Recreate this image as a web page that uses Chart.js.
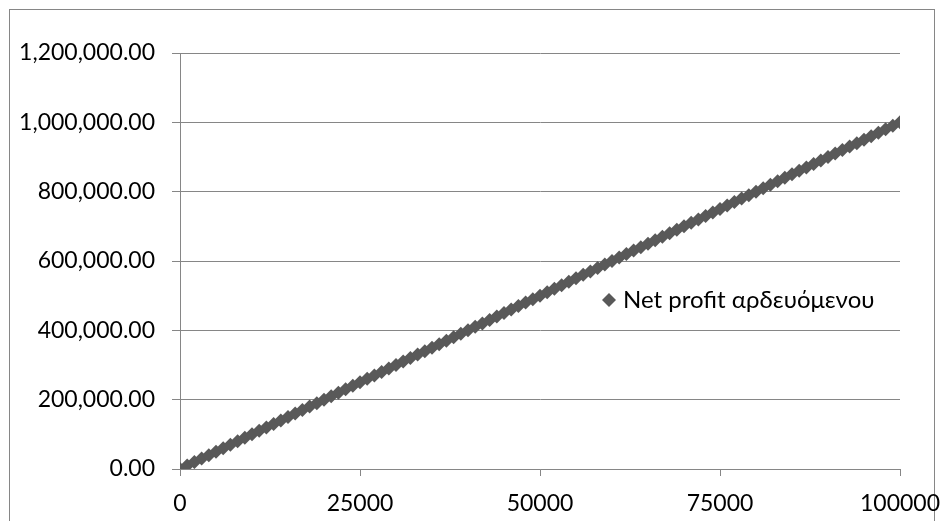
<!DOCTYPE html>
<html>
<head>
<meta charset="utf-8">
<script src="https://cdn.jsdelivr.net/npm/chart.js@4/dist/chart.umd.min.js"></script>
<style>
  html, body { margin: 0; padding: 0; background: #fff; }
  #wrap { width: 944px; height: 521px; position: relative; }
</style>
</head>
<body>
<div id="wrap"><canvas id="chart" width="944" height="521"></canvas></div>
<script>
// ---- data ----
const seriesName = "Net profit αρδευόμενου";

const areaX = [
    0, 1000, 2000, 3000, 4000, 5000, 6000, 7000, 8000, 9000,
    10000, 11000, 12000, 13000, 14000, 15000, 16000, 17000, 18000, 19000,
    20000, 21000, 22000, 23000, 24000, 25000, 26000, 27000, 28000, 29000,
    30000, 31000, 32000, 33000, 34000, 35000, 36000, 37000, 38000, 39000,
    40000, 41000, 42000, 43000, 44000, 45000, 46000, 47000, 48000, 49000,
    50000, 51000, 52000, 53000, 54000, 55000, 56000, 57000, 58000, 59000,
    60000, 61000, 62000, 63000, 64000, 65000, 66000, 67000, 68000, 69000,
    70000, 71000, 72000, 73000, 74000, 75000, 76000, 77000, 78000, 79000,
    80000, 81000, 82000, 83000, 84000, 85000, 86000, 87000, 88000, 89000,
    90000, 91000, 92000, 93000, 94000, 95000, 96000, 97000, 98000, 99000,
    100000
];

const netProfit = [
    0, 10000, 20000, 30000, 40000, 50000, 60000, 70000, 80000, 90000,
    100000, 110000, 120000, 130000, 140000, 150000, 160000, 170000, 180000, 190000,
    200000, 210000, 220000, 230000, 240000, 250000, 260000, 270000, 280000, 290000,
    300000, 310000, 320000, 330000, 340000, 350000, 360000, 370000, 380000, 390000,
    400000, 410000, 420000, 430000, 440000, 450000, 460000, 470000, 480000, 490000,
    500000, 510000, 520000, 530000, 540000, 550000, 560000, 570000, 580000, 590000,
    600000, 610000, 620000, 630000, 640000, 650000, 660000, 670000, 680000, 690000,
    700000, 710000, 720000, 730000, 740000, 750000, 760000, 770000, 780000, 790000,
    800000, 810000, 820000, 830000, 840000, 850000, 860000, 870000, 880000, 890000,
    900000, 910000, 920000, 930000, 940000, 950000, 960000, 970000, 980000, 990000,
    1000000
];

const xTicks = [0, 25000, 50000, 75000, 100000];
const yTicks = [0, 200000, 400000, 600000, 800000, 1000000, 1200000];

// ---- styling ----
const FONT = "Lato";
const FSIZE = 23;
const GRID = "#868686";
const MARK = "#595959";

// outer frame + legend drawn on top (Excel style, legend inside plot)
const excelBits = {
    id: "excelBits",
    beforeDraw(chart) {
        const c = chart.ctx;
        c.save();
        c.fillStyle = "#fff";
        c.fillRect(0, 0, chart.width, chart.height);
        c.strokeStyle = "#868686";
        c.lineWidth = 1;
        c.strokeRect(9.5, 9.5, 925, 530);
        c.restore();
    },
    afterDraw(chart) {
        const c = chart.ctx;
        c.save();
        // diamond marker
        const mx = 609, my = 300, r = 7;
        c.fillStyle = MARK;
        c.beginPath();
        c.moveTo(mx, my - r);
        c.lineTo(mx + r, my);
        c.lineTo(mx, my + r);
        c.lineTo(mx - r, my);
        c.closePath();
        c.fill();
        c.fillStyle = "#000";
        c.font = "24px " + FONT;
        c.textBaseline = "middle";
        c.fillText(seriesName, 623, my);
        c.restore();
    }
};

const points = areaX.map((x, i) => ({ x: x, y: netProfit[i] }));

new Chart(document.getElementById("chart"), {
    type: "scatter",
    data: {
        datasets: [{
            label: seriesName,
            data: points,
            pointStyle: "rectRot",
            pointRadius: 7,
            pointBackgroundColor: MARK,
            pointBorderColor: MARK,
            pointBorderWidth: 0,
            showLine: false
        }]
    },
    options: {
        responsive: false,
        animation: false,
        layout: { padding: { top: 53, right: 44, bottom: 0, left: 0 } },
        plugins: {
            legend: { display: false },
            tooltip: { enabled: false }
        },
        scales: {
            x: {
                type: "linear",
                min: 0,
                max: 100000,
                afterBuildTicks: (s) => { s.ticks = xTicks.map(v => ({ value: v })); },
                afterFit: (s) => { s.height = 52; s.paddingRight = 0; s.paddingLeft = 0; },
                grid: {
                    drawOnChartArea: false,
                    drawTicks: true,
                    tickLength: 7,
                    color: GRID
                },
                border: { display: true, color: GRID, width: 1 },
                ticks: {
                    padding: 14,
                    color: "#000",
                    font: { family: FONT, size: FSIZE },
                    maxRotation: 0,
                    callback: (v) => String(v)
                }
            },
            y: {
                type: "linear",
                min: 0,
                max: 1200000,
                afterBuildTicks: (s) => { s.ticks = yTicks.map(v => ({ value: v })); },
                afterFit: (s) => { s.width = 180; s.paddingTop = 0; s.paddingBottom = 0; },
                grid: {
                    drawOnChartArea: true,
                    drawTicks: true,
                    tickLength: 8,
                    color: GRID
                },
                border: { display: true, color: GRID, width: 1 },
                ticks: {
                    padding: 17,
                    color: "#000",
                    font: { family: FONT, size: FSIZE },
                    callback: (v) => v.toLocaleString("en-US", { minimumFractionDigits: 2, maximumFractionDigits: 2 })
                }
            }
        }
    },
    plugins: [excelBits]
});
</script>
</body>
</html>
